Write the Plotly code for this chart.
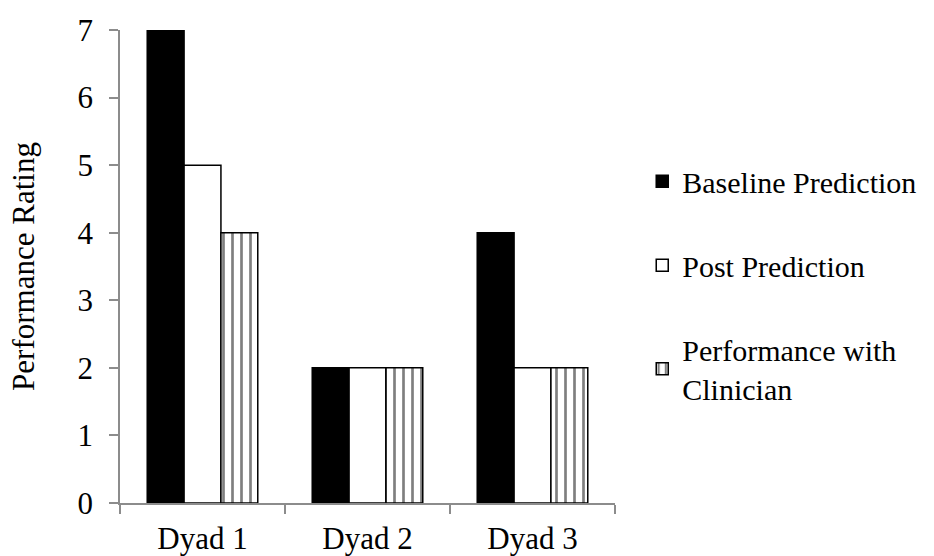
import plotly.graph_objects as go

categories = ["Dyad 1", "Dyad 2", "Dyad 3"]
baseline = [7, 2, 4]
post = [5, 2, 2]
clinician = [4, 2, 2]
y_ticks = [0, 1, 2, 3, 4, 5, 6, 7]

FONT = "Liberation Serif"
AXIS_GREY = "#8c8c8c"
FS = 31
LFS = 30

fig = go.Figure()
fig.add_trace(go.Bar(
    x=categories, y=baseline, name="Baseline Prediction", legendgroup="a",
    marker=dict(color="black", line=dict(color="black", width=1.5)),
))
fig.add_trace(go.Bar(
    x=categories, y=post, name="Post Prediction", legendgroup="b",
    marker=dict(color="white", line=dict(color="black", width=1.5)),
))
fig.add_trace(go.Bar(
    x=categories, y=clinician, name="Performance with<br>Clinician", legendgroup="c",
    marker=dict(color="white", line=dict(color="black", width=1.5),
                pattern=dict(shape="|", fgcolor="black", bgcolor="white",
                             size=9, solidity=0.3)),
))

fig.update_layout(
    width=934, height=556,
    margin=dict(l=120, r=319, t=30, b=53, autoexpand=False),
    paper_bgcolor="white", plot_bgcolor="white",
    font=dict(family=FONT, size=FS, color="black"),
    barmode="group", bargap=0.33, bargroupgap=0,
    showlegend=True,
    legend=dict(x=1.055, y=0.735, xanchor="left", yanchor="top",
                font=dict(family=FONT, size=LFS, color="black"),
                tracegroupgap=42, bgcolor="rgba(0,0,0,0)",
                itemwidth=30),
    xaxis=dict(
        showline=True, linecolor=AXIS_GREY, linewidth=1.5,
        ticks="outside", tickson="boundaries", ticklen=9, tickcolor=AXIS_GREY,
        tickwidth=1.5, showgrid=False, automargin=False,
        ticklabelstandoff=7,
        tickfont=dict(family=FONT, size=FS, color="black"),
    ),
    yaxis=dict(
        range=[0, 7], tickvals=y_ticks,
        showline=True, linecolor=AXIS_GREY, linewidth=1.5,
        ticks="outside", ticklen=9, tickcolor=AXIS_GREY, tickwidth=1.5,
        showgrid=False, zeroline=False, automargin=False,
        ticklabelstandoff=10,
        tickfont=dict(family=FONT, size=FS, color="black"),
        title=dict(text="Performance Rating", standoff=34,
                   font=dict(family=FONT, size=FS, color="black")),
    ),
)

fig.write_html("out.html")
